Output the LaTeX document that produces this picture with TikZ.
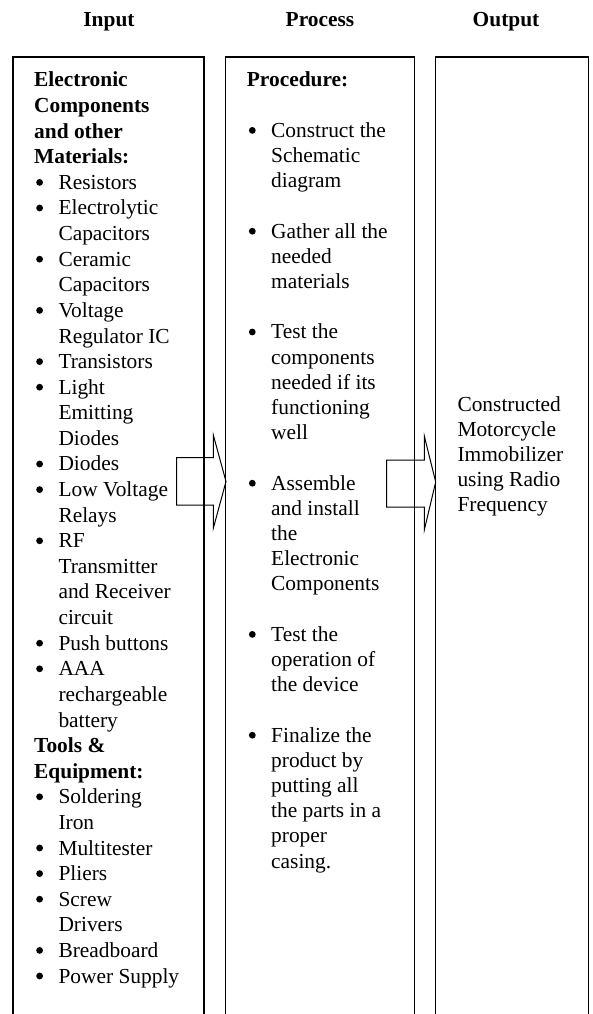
\documentclass[tikz,border=0pt]{standalone}
\usepackage{fontspec}
\setmainfont{Liberation Serif}
\newcommand\bl{\makebox[24.3pt][l]{\hspace{2pt}\raisebox{3.6pt}{\tikz\fill[black] (0,0) circle (3.4pt);}}}
\newcommand\ci{\hspace*{24.3pt}}
\begin{document}
\begin{tikzpicture}[x=1pt,y=-1pt,
  box/.style={line width=1.1pt, draw=black},
  blockarrow/.style={line width=1pt, draw=black},
  head/.style={inner sep=0pt, anchor=base, font=\fontsize{21.4}{25.6}\selectfont\bfseries},
  lefttxt/.style={inner sep=0pt, anchor=base west, font=\fontsize{21.4}{25.6}\selectfont},
  midtxt/.style={inner sep=0pt, anchor=base west, font=\fontsize{21.4}{25.2}\selectfont},
  righttxt/.style={inner sep=0pt, anchor=base west, font=\fontsize{21.4}{25}\selectfont}]
\useasboundingbox (0,0) rectangle (592,1014);
% headers
\node[head] (hin) at (109,27) {Input};
\node[head] (hpr) at (320,27) {Process};
\node[head] (hout) at (506,27) {Output};
% column boxes (open at the bottom)
\draw[box] (13,1016) -- (13,57) -- (204,57) -- (204,1016);
\draw[box] (225.7,1016) -- (225.7,57) -- (414.3,57) -- (414.3,1016);
\draw[box] (435.7,1016) -- (435.7,57) -- (588.3,57) -- (588.3,1016);
% block arrows
\draw[blockarrow] (176.7,457.7) -- (213.3,457.7) -- (213.3,435) -- (226,481.5)
  -- (213.3,528.3) -- (213.3,505) -- (176.7,505) -- cycle;
\draw[blockarrow] (386.7,460) -- (424.3,460) -- (424.3,436) -- (435.7,482)
  -- (424.3,530) -- (424.3,507) -- (386.7,507) -- cycle;
% input text
\node[lefttxt] (inp) at (34,87) {\parbox[t]{175pt}{%
\textbf{Electronic}\\
\textbf{Components}\\
\textbf{and other}\\
\textbf{Materials:}\\
\bl Resistors\\
\bl Electrolytic\\
\ci Capacitors\\
\bl Ceramic\\
\ci Capacitors\\
\bl Voltage\\
\ci Regulator IC\\
\bl Transistors\\
\bl Light\\
\ci Emitting\\
\ci Diodes\\
\bl Diodes\\
\bl Low Voltage\\
\ci Relays\\
\bl RF\\
\ci Transmitter\\
\ci and Receiver\\
\ci circuit\\
\bl Push buttons\\
\bl AAA\\
\ci rechargeable\\
\ci battery\\
\textbf{Tools \&}\\
\textbf{Equipment:}\\
\bl Soldering\\
\ci Iron\\
\bl Multitester\\
\bl Pliers\\
\bl Screw\\
\ci Drivers\\
\bl Breadboard\\
\bl Power Supply}};
% process text
\node[midtxt] (proc) at (246.7,87) {\parbox[t]{165pt}{%
\textbf{Procedure:}\\
\mbox{}\\
\bl Construct the\\
\ci Schematic\\
\ci diagram\\
\mbox{}\\
\bl Gather all the\\
\ci needed\\
\ci materials\\
\mbox{}\\
\bl Test the\\
\ci components\\
\ci needed if its\\
\ci functioning\\
\ci well\\
\mbox{}\\
\bl Assemble\\
\ci and install\\
\ci the\\
\ci Electronic\\
\ci Components\\
\mbox{}\\
\bl Test the\\
\ci operation of\\
\ci the device\\
\mbox{}\\
\bl Finalize the\\
\ci product by\\
\ci putting all\\
\ci the parts in a\\
\ci proper\\
\ci casing.}};
% output text
\node[righttxt] (outp) at (457.3,411.7) {\parbox[t]{130pt}{%
Constructed\\
Motorcycle\\
Immobilizer\\
using Radio\\
Frequency}};
\end{tikzpicture}
\end{document}
